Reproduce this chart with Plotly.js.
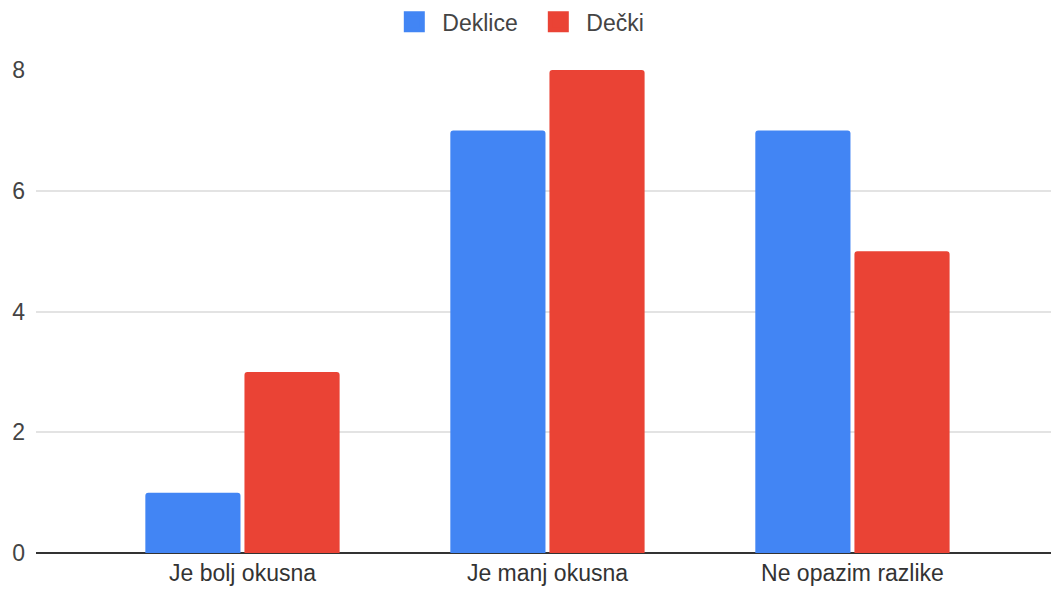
<!DOCTYPE html>
<html>
<head>
<meta charset="utf-8">
<script src="https://cdn.plot.ly/plotly-3.0.1.min.js"></script>
<style>html,body{margin:0;padding:0;background:#fff;}#chart{width:1051px;height:589px;}</style>
</head>
<body>
<div id="chart"></div>
<script>
var categories = ["Je bolj okusna", "Je manj okusna", "Ne opazim razlike"];
var seriesNames = ["Deklice", "Dečki"];
var deklice = [1, 7, 7];
var decki = [3, 8, 5];
var yTicks = [0, 2, 4, 6, 8];
var colors = ["#4285F4", "#EA4335"];

var font = "'Liberation Sans', Arial, sans-serif";
function legendTrace(i) {
  return {type: "scatter", mode: "markers", x: [null], y: [null], name: seriesNames[i],
    marker: {color: colors[i], symbol: "square", size: 16, line: {color: colors[i], width: 5}}, showlegend: true};
}
var traces = [
  {type: "bar", x: categories, y: deklice, name: seriesNames[0], marker: {color: colors[0], cornerradius: 3}, showlegend: false},
  {type: "bar", x: categories, y: decki, name: seriesNames[1], marker: {color: colors[1], cornerradius: 3}, showlegend: false},
  legendTrace(0),
  legendTrace(1)
];
var layout = {
  width: 1051, height: 589,
  margin: {l: 36, r: 0, t: 70, b: 36},
  paper_bgcolor: "#fff", plot_bgcolor: "#fff",
  font: {family: font, size: 23, color: "#444"},
  barmode: "group", bargap: 0.35, bargroupgap: 0.04,
  showlegend: true,
  legend: {orientation: "h", x: 0.487, xanchor: "center", y: 1.10, yanchor: "middle", font: {size: 23, color: "#444"}, itemwidth: 46, entrywidth: 83, entrywidthmode: "pixels"},
  xaxis: {type: "category", categoryorder: "array", categoryarray: categories, range: [-0.677, 2.651], showgrid: false, zeroline: false, showline: false, ticks: "", ticklabelstandoff: 4, tickfont: {size: 23, color: "#333"}},
  yaxis: {range: [0, 8], tickvals: yTicks, ticktext: yTicks.map(String), showgrid: true, gridcolor: "#e3e3e3", gridwidth: 2, zeroline: true, zerolinecolor: "#333", zerolinewidth: 1.5, showline: false, ticks: "", ticklabelstandoff: 10, tickfont: {size: 23, color: "#444"}, fixedrange: true}
};
Plotly.newPlot("chart", traces, layout, {displayModeBar: false, staticPlot: true});
</script>
</body>
</html>
